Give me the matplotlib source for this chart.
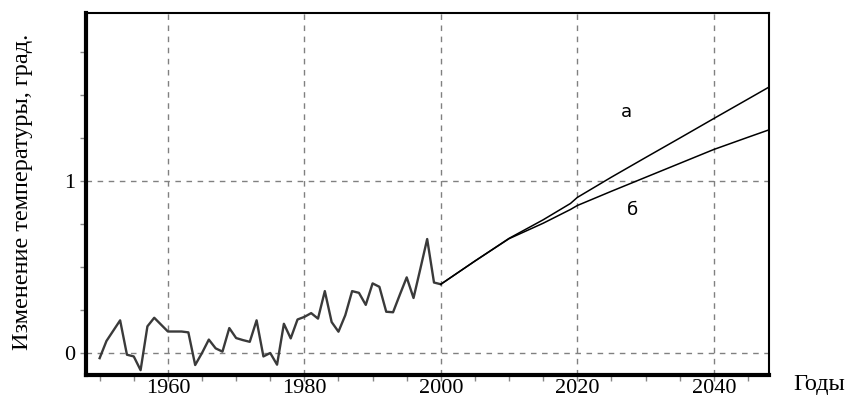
import numpy as np
import matplotlib.pyplot as plt
from matplotlib.ticker import MultipleLocator

# observed anomalies, 1950-2000
years_obs = np.arange(1950, 2001)
temp_obs = [-0.03, 0.07, 0.13, 0.19, -0.01, -0.02, -0.10, 0.155, 0.205, 0.165,
            0.125, 0.125, 0.125, 0.12, -0.07, 0.0, 0.078, 0.027, 0.008, 0.145,
            0.087, 0.075, 0.065, 0.19, -0.02, 0.0, -0.068, 0.17, 0.085, 0.195,
            0.21, 0.232, 0.20, 0.36, 0.18, 0.124, 0.22, 0.36, 0.35, 0.28,
            0.405, 0.385, 0.24, 0.237, 0.34, 0.44, 0.32, 0.49, 0.663, 0.41,
            0.40]

# projections
years_proj = [2000, 2005, 2010, 2015, 2019, 2020, 2025, 2030, 2035, 2040, 2045, 2048]
proj_a = [0.40, 0.535, 0.667, 0.775, 0.87, 0.905, 1.023, 1.137, 1.25, 1.364, 1.477, 1.545]
proj_b = [0.40, 0.535, 0.665, 0.755, 0.835, 0.858, 0.941, 1.022, 1.103, 1.184, 1.255, 1.297]

fig = plt.figure(figsize=(8.49, 4.08), dpi=100)
ax = fig.add_axes([0.1013, 0.0809, 0.8045, 0.888])

ax.plot(years_obs, temp_obs, color='#3a3a3a', lw=1.7)
ax.plot(years_proj, proj_a, color='black', lw=1.1)
ax.plot(years_proj, proj_b, color='black', lw=1.1)

ax.text(2027.2, 1.40, 'а', fontsize=13, family='DejaVu Sans', ha='center', va='center')
ax.text(2028.1, 0.83, 'б', fontsize=13, family='DejaVu Sans', ha='center', va='center')

ax.set_xlim(1948, 2048.1)
ax.set_ylim(-0.128, 1.98)

ax.xaxis.set_major_locator(MultipleLocator(20))
ax.xaxis.set_minor_locator(MultipleLocator(5))
ax.yaxis.set_major_locator(MultipleLocator(1))
ax.yaxis.set_minor_locator(MultipleLocator(0.25))
ax.tick_params(which='both', direction='out', length=4, width=1, color='#888888',
               labelsize=16, labelfontfamily='Liberation Serif')
ax.tick_params(axis='x', pad=-1)
ax.tick_params(axis='y', pad=4)

ax.grid(True, which='major', linestyle=(0, (4, 4)), color='#808080', lw=1)

for side in ['left', 'bottom']:
    ax.spines[side].set_linewidth(3)
for side in ['top', 'right']:
    ax.spines[side].set_linewidth(1.5)

fig.text(0.027, 0.53, 'Изменение температуры, град.', rotation=90, fontsize=17.5,
         family='Liberation Serif', ha='center', va='center')
fig.text(0.965, 0.058, 'Годы', fontsize=17.5, family='Liberation Serif',
         ha='center', va='center')

fig.savefig('out.png', dpi=100)
